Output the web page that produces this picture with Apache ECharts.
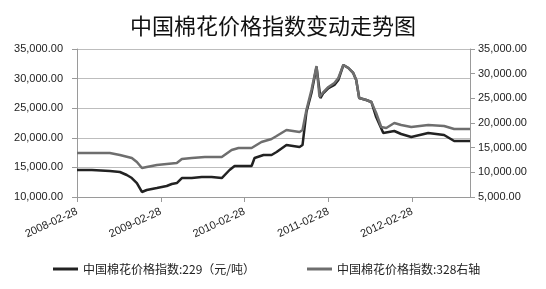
<!DOCTYPE html>
<html>
<head>
<meta charset="utf-8">
<script src="https://cdn.jsdelivr.net/npm/echarts@6/dist/echarts.min.js"></script>
<style>
  html, body { margin: 0; padding: 0; background: #fff; }
  #chart { width: 546px; height: 289px; }
</style>
</head>
<body>
<div id="chart"></div>
<script>
// 中国棉花价格指数:229（元/吨），左轴
const dates229 = ["2008-02-28", "2008-05-03", "2008-07-20", "2008-09-02", "2008-10-02", "2008-10-24", "2008-11-15", "2008-12-07", "2008-12-28", "2009-02-10", "2009-03-25", "2009-04-16", "2009-05-08", "2009-05-30", "2009-07-12", "2009-08-25", "2009-10-07", "2009-11-20", "2009-12-24", "2010-01-15", "2010-03-30", "2010-04-12", "2010-05-21", "2010-06-25", "2010-07-17", "2010-08-29", "2010-10-25", "2010-11-07", "2010-11-24", "2010-12-16", "2011-01-07", "2011-01-24", "2011-02-06", "2011-02-28", "2011-03-26", "2011-04-12", "2011-05-04", "2011-05-26", "2011-06-16", "2011-06-29", "2011-07-12", "2011-08-12", "2011-09-03", "2011-09-24", "2011-10-25", "2011-12-12", "2012-01-11", "2012-02-24", "2012-05-08", "2012-07-16", "2012-08-29", "2012-11-06"];
const values229 = [14560, 14560, 14400, 14220, 13720, 13200, 12360, 10850, 11180, 11520, 11860, 12200, 12360, 13200, 13200, 13380, 13380, 13200, 14560, 15240, 15240, 16590, 17100, 17100, 17600, 18780, 18450, 18780, 24360, 27570, 31960, 26720, 27570, 28410, 28920, 29760, 32300, 31790, 30950, 29760, 26720, 26390, 26050, 23510, 20810, 21150, 20640, 20140, 20810, 20470, 19460, 19460];

// 中国棉花价格指数:328，右轴
const dates328 = ["2008-02-28", "2008-07-20", "2008-09-02", "2008-10-24", "2008-11-15", "2008-12-07", "2008-12-28", "2009-02-10", "2009-03-25", "2009-05-08", "2009-05-30", "2009-07-12", "2009-09-07", "2009-11-20", "2010-01-02", "2010-02-01", "2010-03-30", "2010-05-12", "2010-06-25", "2010-07-17", "2010-08-29", "2010-10-25", "2010-11-07", "2010-11-24", "2010-12-16", "2011-01-07", "2011-01-20", "2011-02-06", "2011-02-28", "2011-03-26", "2011-04-12", "2011-05-04", "2011-05-26", "2011-06-16", "2011-06-29", "2011-07-12", "2011-08-12", "2011-09-03", "2011-09-24", "2011-10-16", "2011-11-07", "2011-12-12", "2012-01-11", "2012-02-24", "2012-05-08", "2012-07-16", "2012-08-29", "2012-11-06"];
const values328 = [13920, 13920, 13510, 12900, 12100, 10880, 11080, 11490, 11690, 11890, 12700, 12900, 13110, 13110, 14530, 14930, 14930, 16150, 16760, 17360, 18580, 18180, 18580, 22630, 26690, 31550, 25270, 26280, 27300, 28110, 29120, 31760, 31150, 30130, 28720, 25070, 24660, 24260, 22030, 19190, 18990, 20000, 19590, 19190, 19590, 19390, 18780, 18780];

const seriesNames = ["中国棉花价格指数:229（元/吨）", "中国棉花价格指数:328右轴"];

const baseDay = Date.parse("2008-02-28");
const yearDays = 365.25;
function dayOffset(d) {
  return (Date.parse(d) - baseDay) / 86400000;
}
function money(v) {
  return v.toFixed(2).replace(/\B(?=(\d{3})+(?!\d))/g, ",");
}

let chart = echarts.init(document.getElementById("chart"));
const labelFont = { fontFamily: "Liberation Sans", fontSize: 11, color: "#222" };
const axisGray = { lineStyle: { color: "#9a9a9a", width: 1 } };

chart.setOption({
  animation: false,
  title: {
    text: "中国棉花价格指数变动走势图",
    left: "center",
    top: 10,
    textStyle: { fontFamily: "Noto Sans CJK SC", fontSize: 22, fontWeight: "normal", color: "#111" }
  },
  legend: {
    bottom: 9,
    left: 48,
    icon: "rect",
    itemWidth: 25,
    itemHeight: 3,
    itemGap: 52,
    textStyle: { fontFamily: "Noto Sans CJK SC", fontSize: 12, color: "#222" },
    data: seriesNames
  },
  grid: { left: 77, right: 76, top: 49, bottom: 92 },
  xAxis: {
    type: "value",
    min: 0,
    max: dayOffset(dates229[dates229.length - 1]),
    interval: yearDays,
    axisLine: axisGray,
    axisTick: { show: true, length: 5, lineStyle: { color: "#9a9a9a" } },
    splitLine: { show: false },
    axisLabel: Object.assign({
      rotate: 25,
      margin: 14,
      showMaxLabel: false,
      formatter: v => (2008 + Math.round(v / yearDays)) + "-02-28"
    }, labelFont)
  },
  yAxis: [
    {
      type: "value",
      min: 10000,
      max: 35000,
      interval: 5000,
      axisLine: Object.assign({ show: true }, axisGray),
      axisTick: { show: true, length: 5, lineStyle: { color: "#9a9a9a" } },
      splitLine: { lineStyle: { color: "#bdbdbd", width: 1 } },
      axisLabel: Object.assign({ margin: 14, formatter: money }, labelFont)
    },
    {
      type: "value",
      min: 5000,
      max: 35000,
      interval: 5000,
      axisLine: Object.assign({ show: true }, axisGray),
      axisTick: { show: true, length: 5, lineStyle: { color: "#9a9a9a" } },
      splitLine: { show: false },
      axisLabel: Object.assign({ margin: 8, formatter: money }, labelFont)
    }
  ],
  series: [
    {
      name: seriesNames[0],
      type: "line",
      yAxisIndex: 0,
      symbol: "none",
      lineStyle: { color: "#222", width: 2.5 },
      itemStyle: { color: "#222" },
      data: dates229.map((d, i) => [dayOffset(d), values229[i]])
    },
    {
      name: seriesNames[1],
      type: "line",
      yAxisIndex: 1,
      symbol: "none",
      lineStyle: { color: "#6e6e6e", width: 2.5 },
      itemStyle: { color: "#6e6e6e" },
      data: dates328.map((d, i) => [dayOffset(d), values328[i]])
    }
  ]
});
</script>
</body>
</html>
